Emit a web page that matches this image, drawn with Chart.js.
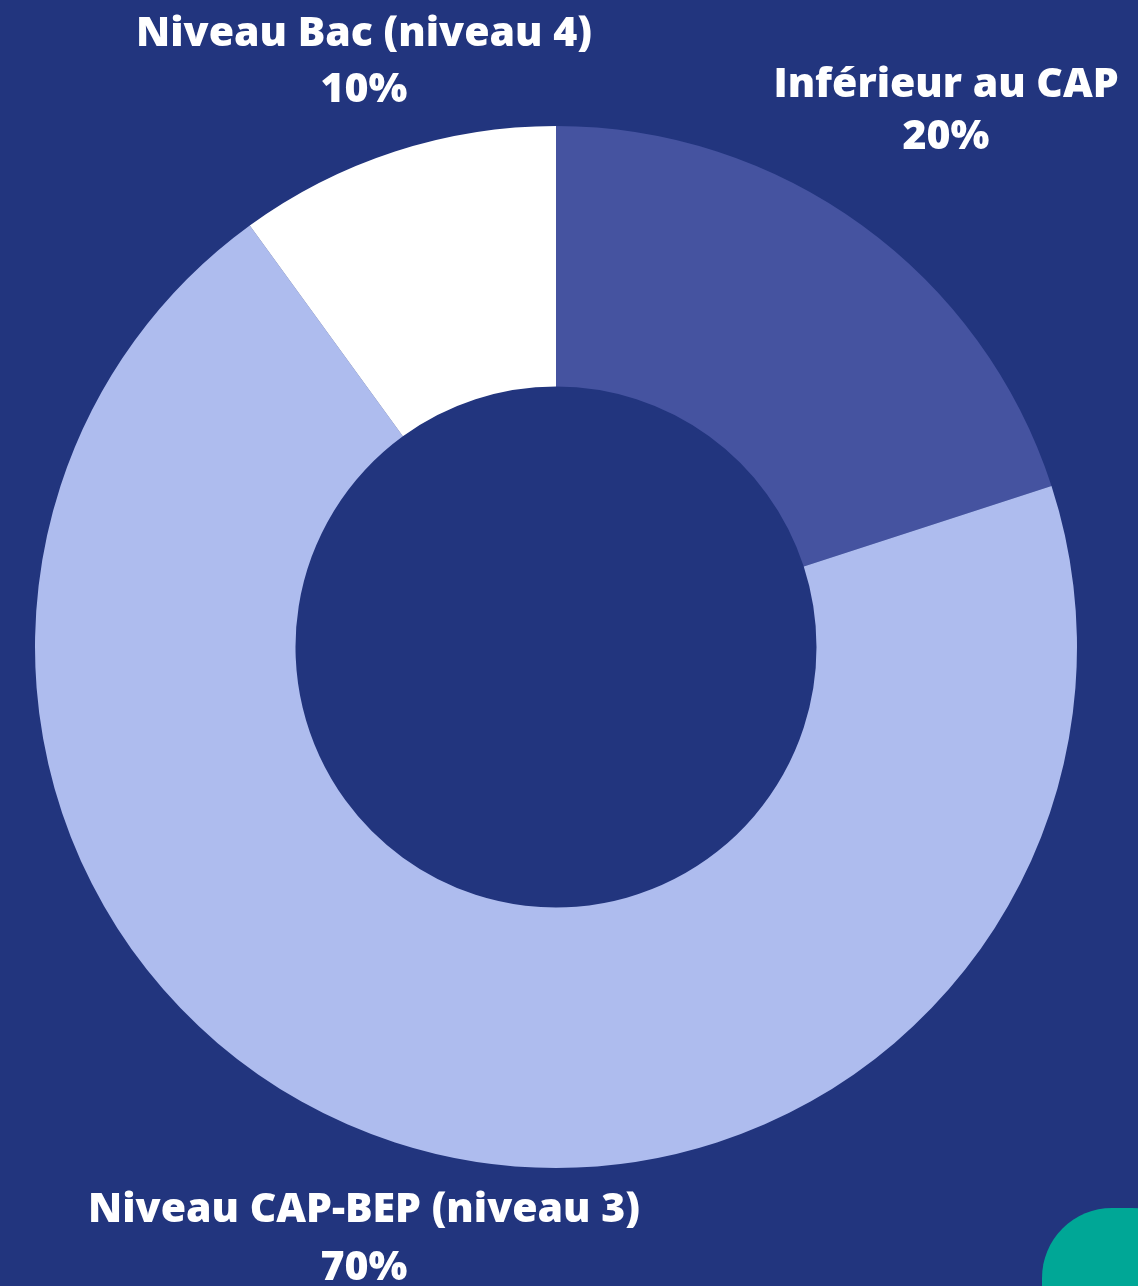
<!DOCTYPE html>
<html lang="fr">
<head>
<meta charset="utf-8">
<script src="https://cdn.jsdelivr.net/npm/chart.js@4.4.1/dist/chart.umd.min.js"></script>
<style>
  html, body { margin: 0; padding: 0; background: #22357e; overflow: hidden; }
  #wrap { position: relative; width: 1138px; height: 1286px; }
  #c { position: absolute; left: 0; top: 0; }
  .lbl { position: absolute; color: #ffffff; font-family: "Open Sans", sans-serif; font-weight: 800;
         font-size: 41px; line-height: 52px; text-align: center; white-space: nowrap; transform: translateX(-50%); }
  #corner { position: absolute; left: 1042px; top: 1208px; width: 160px; height: 160px;
            background: #00a796; border-radius: 70px; }
</style>
</head>
<body>
<div id="wrap">
  <canvas id="c" width="1138" height="1286"></canvas>
  <div id="corner"></div>
</div>
<script>
const categories = ["Inférieur au CAP", "Niveau CAP-BEP (niveau 3)", "Niveau Bac (niveau 4)"];
const values = [20, 70, 10];
const colors = ["#4553a0", "#aebcee", "#ffffff"];
const labelPos = [ {x: 946, y: 55.4, lh: 52}, {x: 364, y: 1177.4, lh: 58}, {x: 364, y: 2.4, lh: 56} ];

const ctx = document.getElementById('c').getContext('2d');
new Chart(ctx, {
  type: 'doughnut',
  data: {
    labels: categories,
    datasets: [{ data: values, backgroundColor: colors, borderWidth: 0, hoverOffset: 0 }]
  },
  options: {
    responsive: false,
    animation: false,
    cutout: '50%',
    layout: { padding: { left: 35, right: 61, top: 126, bottom: 118 } },
    plugins: { legend: { display: false }, tooltip: { enabled: false } }
  }
});

const wrap = document.getElementById('wrap');
categories.forEach((name, i) => {
  const d = document.createElement('div');
  d.className = 'lbl';
  d.style.left = labelPos[i].x + 'px';
  d.style.top = labelPos[i].y + 'px';
  d.style.lineHeight = labelPos[i].lh + 'px';
  d.innerHTML = name + '<br>' + values[i] + '%';
  wrap.appendChild(d);
});
</script>
</body>
</html>
